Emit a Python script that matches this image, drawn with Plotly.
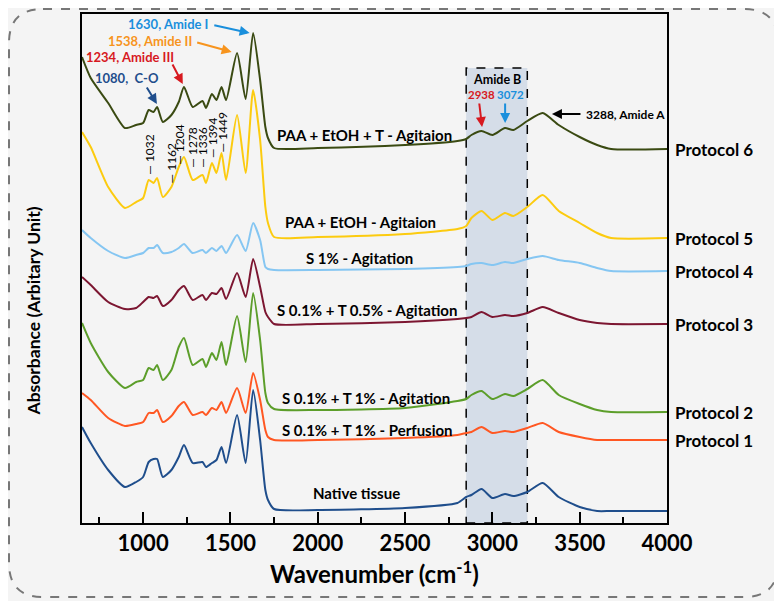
import plotly.graph_objects as go

# wavenumber grid (cm-1) shared by every spectrum
wavenumber = [650, 700, 800, 896, 960, 1000, 1032, 1060, 1080, 1113,
              1162, 1204, 1234, 1284, 1340, 1360, 1394, 1420, 1449, 1475,
              1538, 1587, 1630, 1670, 1700, 1715, 1750, 2000, 2500, 2800,
              2850, 2880, 2938, 3000, 3072, 3120, 3200, 3288, 3380, 3500,
              3600, 3680, 4000]

# stacked absorbance (arbitrary unit, offsets included)
protocol6 = [466, 445, 420, 395, 398, 400, 413, 411, 416, 401,
             408, 421, 436, 416, 422, 415, 429, 423, 436, 423,
             470, 424, 490, 443, 396, 385, 375, 375, 378, 382,
             384, 388, 392, 388, 395, 393, 402, 410, 398, 386,
             378, 374, 374]
protocol5 = [391, 376, 336, 315, 321, 325, 343, 340, 345, 326,
             336, 356, 366, 343, 348, 340, 360, 350, 370, 343,
             408, 350, 433, 383, 316, 300, 286, 286, 289, 294,
             297, 305, 312, 303, 310, 307, 316, 328, 312, 300,
             290, 285, 285]
protocol4 = [293, 285, 272, 265, 268, 270, 275, 275, 278, 270,
             271, 275, 279, 270, 273, 270, 275, 272, 277, 270,
             288, 272, 300, 283, 256, 254, 253, 253, 254, 256,
             257, 259, 260, 258, 261, 260, 264, 267, 263, 260,
             255, 252, 252]
protocol3 = [246, 238, 221, 214, 215, 221, 226, 225, 227, 217,
             223, 233, 237, 223, 228, 223, 230, 229, 235, 224,
             250, 226, 264, 236, 211, 206, 199, 199, 201, 204,
             205, 206, 211, 206, 208, 207, 210, 216, 210, 203,
             200, 199, 199]
protocol2 = [200, 180, 151, 135, 141, 143, 155, 153, 158, 143,
             153, 176, 185, 158, 164, 156, 170, 163, 181, 158,
             207, 161, 230, 183, 130, 120, 114, 113, 115, 122,
             124, 128, 132, 124, 129, 127, 134, 143, 128, 119,
             113, 111, 111]
protocol1 = [130, 123, 105, 97, 99, 101, 110, 110, 113, 101,
             107, 117, 121, 108, 111, 108, 115, 113, 121, 110,
             135, 110, 150, 123, 93, 86, 83, 83, 85, 88,
             90, 91, 96, 90, 92, 91, 95, 100, 91, 86,
             83, 83, 83]
native = [96, 80, 53, 36, 41, 46, 61, 64, 64, 46,
          53, 66, 78, 60, 61, 56, 60, 63, 76, 60,
          108, 60, 133, 83, 33, 23, 14, 13, 15, 20,
          26, 28, 34, 25, 29, 27, 31, 40, 26, 16,
          12, 12, 12]

series = [
    ("Protocol 6", protocol6, "#3a4a12", "PAA + EtOH + T - Agitaion"),
    ("Protocol 5", protocol5, "#fccb0f", "PAA + EtOH - Agitaion"),
    ("Protocol 4", protocol4, "#85c6f2", "S 1% - Agitation"),
    ("Protocol 3", protocol3, "#7c1631", "S 0.1% + T 0.5% - Agitation"),
    ("Protocol 2", protocol2, "#5c9e2a", "S 0.1% + T 1% - Agitation"),
    ("Protocol 1", protocol1, "#ff5722", "S 0.1% + T 1% - Perfusion"),
    ("Native tissue", native, "#1f4e8c", "Native tissue"),
]

# small assigned peaks on protocol 5
peak_labels = [1032, 1162, 1204, 1278, 1336, 1394, 1449]

FONT = "Lato"
# page body has an 8px margin, so the figure is a bit smaller than the window
W, H = 774, 593
L, R, T, B = 74, 115, 6, 78

fig = go.Figure()

for name, vals, color, desc in series:
    fig.add_trace(go.Scatter(x=wavenumber, y=vals, mode="lines", name=name,
                             line=dict(color=color, width=2, shape="spline", smoothing=0.6),
                             showlegend=False))

# amide B band
fig.add_shape(type="rect", x0=2850, x1=3200, y0=0, y1=455, xref="x", yref="y",
              fillcolor="#d5dde8", line=dict(color="black", width=1.5, dash="dash"),
              layer="below")

ann = []
# sample descriptions in the middle and protocol names on the right
desc_pos = [(1753, 388), (1799, 301), (1924, 265), (1753, 213), (1781, 125), (1781, 93), (1964, 30)]
for (name, vals, color, desc), (dx, dy) in zip(series, desc_pos):
    ann.append(dict(x=dx, y=dy, text=desc, showarrow=False, xanchor="left",
                    font=dict(family=FONT, size=15, color="black", weight="bold")))
    if name != "Native tissue":
        ann.append(dict(x=1.01, xref="paper", y=vals[-1], text=name, showarrow=False,
                        xanchor="left", font=dict(family=FONT, size=17, color="black", weight="bold")))

label_y = [346, 338, 356, 353, 353, 363, 368]
for wn, ly in zip(peak_labels, label_y):
    ann.append(dict(x=wn, y=ly, text="\u2014 %d" % wn, textangle=-90, showarrow=False,
                    xanchor="center", yanchor="bottom",
                    font=dict(family=FONT, size=12, color="black")))

# labelled bands with arrows
band_text = [
    ("1630, Amide I", "#1a8fdc", 1385, 499, "right"),
    ("1538, Amide II", "#f7941d", 1290, 482, "right"),
    ("1234, Amide III", "#d7191f", 924, 466, "center"),
    ("1080,  C-O", "#1f4e8c", 905, 445, "center"),
]
for txt, col, bx, by, anc in band_text:
    ann.append(dict(x=bx, y=by, text=txt, showarrow=False, xanchor=anc,
                    font=dict(family=FONT, size=13, color=col, weight="bold")))

arrows = [
    (1399, 498, 1610, 490, "#1a8fdc"),
    (1301, 481, 1507, 471, "#f7941d"),
    (1164, 460, 1227, 439, "#d7191f"),
    (1016, 437, 1079, 419, "#1f4e8c"),
    (2924, 421, 2941, 396, "#d7191f"),
    (3073, 421, 3073, 400, "#1a8fdc"),
    (3513, 409, 3341, 409, "black"),
]
for tx, ty, hx, hy, col in arrows:
    ann.append(dict(x=hx, y=hy, ax=tx, ay=ty, axref="x", ayref="y", text="",
                    showarrow=True, arrowhead=2, arrowsize=1, arrowwidth=2, arrowcolor=col))

ann.append(dict(x=3025, y=444, text="Amide B", showarrow=False,
                font=dict(family=FONT, size=12.5, color="black", weight="bold")))
ann.append(dict(x=2936, y=429, text="2938", showarrow=False,
                font=dict(family=FONT, size=11.5, color="#d7191f", weight="bold")))
ann.append(dict(x=3101, y=429, text="3072", showarrow=False,
                font=dict(family=FONT, size=11.5, color="#1a8fdc", weight="bold")))
ann.append(dict(x=3524, y=409, text="3288, Amide A", showarrow=False, xanchor="left",
                font=dict(family=FONT, size=12, color="black", weight="bold")))

# y-axis title, drawn as a rotated annotation (bottom-anchored)
pw, ph = W - L - R, H - T - B
ann.append(dict(x=(25 - L) / pw, y=(ph + T - 410) / ph, xref="paper", yref="paper",
                text="Absorbance (Arbitary Unit)", textangle=-90, showarrow=False,
                xanchor="center", yanchor="bottom",
                font=dict(family=FONT, size=17.5, color="black", weight="bold")))

# dashed rounded frame around the whole figure
def fx(p):
    return (p - L) / pw
def fy(p):
    return (H - B - p) / ph
x0, x1, y0, y1, rr = 1, 770, 1, 589, 34
path = ("M %f,%f L %f,%f Q %f,%f %f,%f L %f,%f Q %f,%f %f,%f L %f,%f Q %f,%f %f,%f L %f,%f Q %f,%f %f,%f Z" % (
    fx(x0 + rr), fy(y0), fx(x1 - rr), fy(y0), fx(x1), fy(y0), fx(x1), fy(y0 + rr),
    fx(x1), fy(y1 - rr), fx(x1), fy(y1), fx(x1 - rr), fy(y1),
    fx(x0 + rr), fy(y1), fx(x0), fy(y1), fx(x0), fy(y1 - rr),
    fx(x0), fy(y0 + rr), fx(x0), fy(y0), fx(x0 + rr), fy(y0)))
fig.add_shape(type="path", path=path, xref="paper", yref="paper",
              line=dict(color="#777777", width=2, dash="dash"), layer="below")

fig.update_layout(
    width=W, height=H,
    margin=dict(l=L, r=R, t=T, b=B),
    paper_bgcolor="#f4f4f4", plot_bgcolor="#f4f4f4",
    annotations=ann,
    xaxis=dict(range=[650, 4000], tickvals=[1000, 1500, 2000, 2500, 3000, 3500, 4000],
               ticks="inside", ticklen=11, tickwidth=2, tickcolor="black",
               minor=dict(tickvals=[750, 1250, 1750, 2250, 2750, 3250, 3750],
                          ticks="inside", ticklen=6, tickwidth=2, tickcolor="black"),
               showline=True, linecolor="black", linewidth=2, mirror=True,
               showgrid=False, zeroline=False, automargin=False,
               tickfont=dict(family=FONT, size=22, color="black", weight="bold"),
               title=dict(text="Wavenumber (cm<sup>-1</sup>)", standoff=8,
                          font=dict(family=FONT, size=24, color="black", weight="bold"))),
    yaxis=dict(range=[0, 509], showticklabels=False, ticks="",
               showline=True, linecolor="black", linewidth=2, mirror=True,
               showgrid=False, zeroline=False, automargin=False),
)

fig.write_html("out.html")
